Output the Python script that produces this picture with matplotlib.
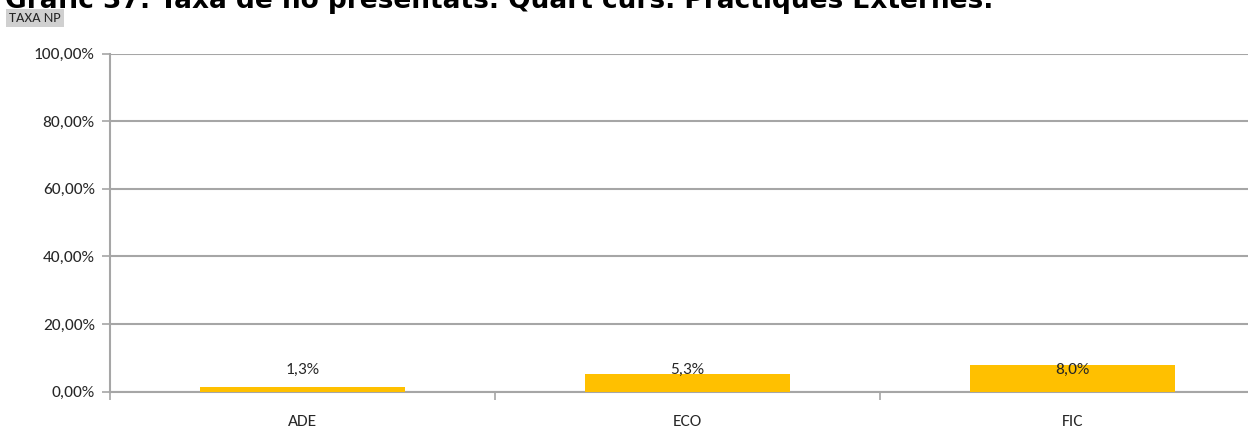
import matplotlib
matplotlib.use("Agg")
import matplotlib.pyplot as plt
from matplotlib.ticker import FuncFormatter, FixedLocator

# Data
categories = ["ADE", "ECO", "FIC"]
taxa_np = [1.3, 5.3, 8.0]          # percent
y_ticks = [0, 20, 40, 60, 80, 100]

title = "Gràfic 37: Taxa de no presentats. Quart curs. Pràctiques Externes."
series_name = "TAXA NP"

BAR_COLOR = "#FFC000"
GRID_COLOR = "#A6A6A6"
TEXT_COLOR = "#262626"
BODY_FONT = ["Carlito", "DejaVu Sans"]

W, H = 1248, 430
fig = plt.figure(figsize=(W / 100, H / 100), dpi=100)

# plot area: left edge at 110 px, runs past the right border
left, right_px = 110, W
top, bottom = 53.5, 391.8
ax = fig.add_axes([left / W, 1 - bottom / H, (right_px - left) / W, (bottom - top) / H])

cat_px = 385.0
x = list(range(len(categories)))
ax.bar(x, taxa_np, width=0.533, color=BAR_COLOR, zorder=3)

ax.set_ylim(0, 100)
ax.set_xlim(-0.5, -0.5 + (right_px - left) / cat_px)

ax.yaxis.set_major_locator(FixedLocator(y_ticks))
ax.yaxis.set_major_formatter(FuncFormatter(lambda v, p: f"{v:.2f}%".replace(".", ",")))
ax.grid(axis="y", color=GRID_COLOR, linewidth=1.5, zorder=0)

ax.set_xticks(x)
ax.set_xticklabels(categories)
ax.xaxis.set_minor_locator(FixedLocator([i + 0.5 for i in range(-1, len(categories))]))
ax.tick_params(axis="x", which="major", length=0, pad=17, labelsize=12.5, labelcolor=TEXT_COLOR)
ax.tick_params(axis="x", which="minor", length=6, width=1.2, color=GRID_COLOR)
ax.tick_params(axis="y", length=6, width=1.2, color=GRID_COLOR, pad=5, labelsize=12.5,
               labelcolor=TEXT_COLOR)
for lab in ax.get_xticklabels() + ax.get_yticklabels():
    lab.set_family(BODY_FONT)

for s in ["top", "right"]:
    ax.spines[s].set_visible(False)
for s in ["left", "bottom"]:
    ax.spines[s].set_color(GRID_COLOR)
    ax.spines[s].set_linewidth(1.5)

# value labels
for xi, v in zip(x, taxa_np):
    ax.text(xi, 6.5, f"{v:.1f}%".replace(".", ","), ha="center", va="center",
            fontsize=12.5, family=BODY_FONT, color=TEXT_COLOR, zorder=4)

# title, mostly above the top edge
fig.text(5 / W, 1 - 8 / H, title, ha="left", va="baseline", fontsize=19,
         fontweight="bold", family="DejaVu Sans", color="black")

# series tag
fig.text(9 / W, 1 - 18 / H, series_name, ha="left", va="center", fontsize=10.5,
         family=BODY_FONT, color=TEXT_COLOR,
         bbox=dict(boxstyle="square,pad=0.2", facecolor="#D0D0D0", edgecolor="none"))

fig.savefig("out.png", dpi=100)
